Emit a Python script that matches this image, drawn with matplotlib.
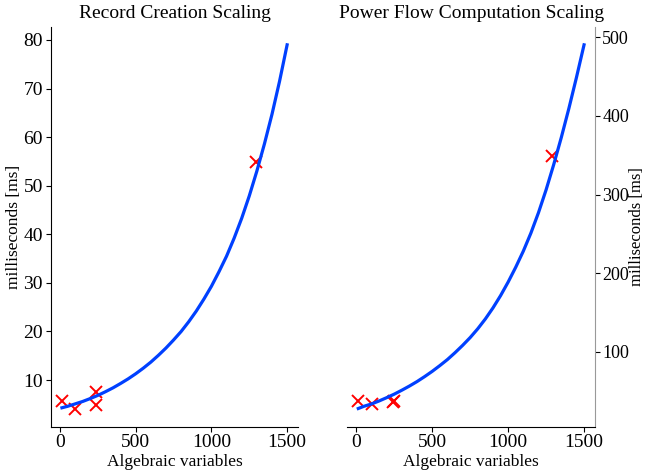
import matplotlib
matplotlib.use('Agg')
from matplotlib import pyplot as plt

plt.rcParams['font.family'] = ['Liberation Serif', 'DejaVu Serif']

# measured points (x = algebraic variables, y = ms)
rec_x = [14, 100, 241, 241, 1292]
rec_y = [5.75, 4.15, 7.5, 4.9, 54.9]
pf_x = [14, 101, 240, 246, 1287]
pf_y = [37.4, 33.2, 35.8, 37.6, 349]

# fitted curves
fit_x = [13, 50, 100, 150, 200, 250, 300, 350, 400, 450, 500, 550, 600, 650, 700, 750,
         800, 850, 900, 950, 1000, 1050, 1100, 1150, 1200, 1250, 1300, 1350, 1400, 1450, 1500]
rec_fit = [4.3, 4.6, 5.1, 5.6, 6.2, 6.85, 7.6, 8.4, 9.3, 10.25, 11.3, 12.45, 13.7, 15.1, 16.6, 18.25,
           20.0, 22.0, 24.2, 26.65, 29.3, 32.3, 35.5, 39.2, 43.3, 47.9, 53.0, 58.6, 64.7, 71.5, 79.0]
pf_fit = [27.7, 30.5, 33.5, 37.3, 41.5, 46, 51, 56.3, 62, 68.3, 75, 82.3, 90, 98.7, 108, 118,
          129.2, 141.7, 155.7, 171.3, 188.6, 207.5, 228, 251, 277, 306, 338, 372.5, 409.5, 449, 490.5]

line_color = '#0040ff'

fig = plt.figure(figsize=(6.45, 4.76), dpi=100)
ax1 = fig.add_axes([0.0786, 0.1036, 0.384, 0.8404])
ax2 = fig.add_axes([0.538, 0.1036, 0.385, 0.8404])

for ax, xs, ys, fy in [(ax1, rec_x, rec_y, rec_fit), (ax2, pf_x, pf_y, pf_fit)]:
    ax.plot(xs, ys, 'x', color='red', markersize=9, markeredgewidth=1.4)
    ax.plot(fit_x, fy, color=line_color, linewidth=2.3)
    ax.set_xlabel('Algebraic variables', fontsize=12.5, labelpad=2)
    ax.set_xticks([0, 500, 1000, 1500])
    ax.tick_params(labelsize=14, pad=2)
    ax.spines['top'].set_visible(False)

ax1.spines['right'].set_visible(False)
ax1.set_yticks([10, 20, 30, 40, 50, 60, 70, 80])
ax1.set_ylabel('milliseconds [ms]', fontsize=12.5, labelpad=1)
ax1.set_title('Record Creation Scaling', fontsize=14)

ax2.spines['left'].set_visible(False)
ax2.spines['right'].set_color('#999999')
ax2.yaxis.tick_right()
ax2.tick_params(axis='y', labelsize=13, pad=1.5)
ax2.yaxis.set_label_position('right')
ax2.set_yticks([100, 200, 300, 400, 500])
ax2.set_ylabel('milliseconds [ms]', fontsize=12, labelpad=0)
ax2.set_title('Power Flow Computation Scaling', fontsize=14)

fig.savefig('out.png', dpi=100)
